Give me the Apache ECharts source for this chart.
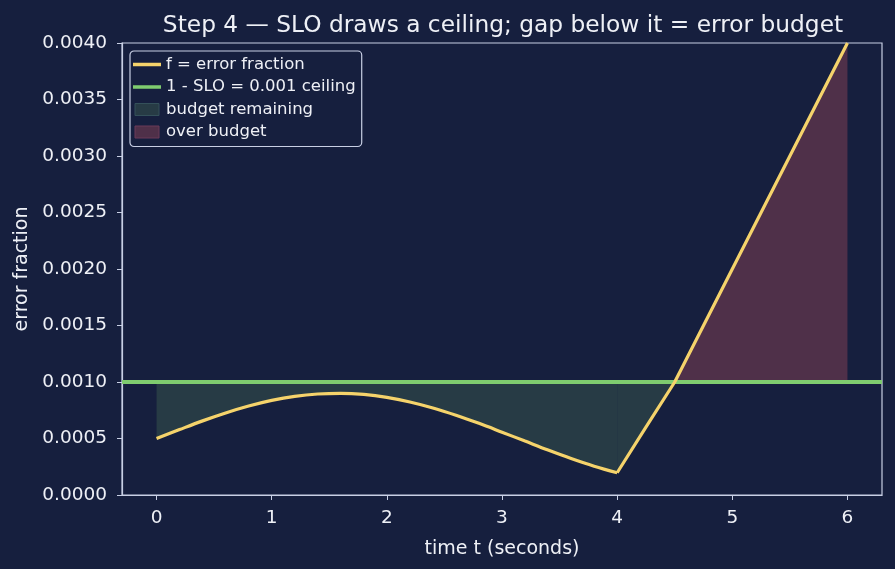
<!DOCTYPE html>
<html>
<head>
<meta charset="utf-8">
<script src="https://cdn.jsdelivr.net/npm/echarts@6/dist/echarts.min.js"></script>
<style>
  html, body { margin: 0; padding: 0; background: #161f3e; }
  #chart { width: 895px; height: 569px; }
</style>
</head>
<body>
<div id="chart"></div>
<script>
// time samples (seconds) and the error fraction
const tValues = [0, 0.2, 0.4, 0.6, 0.8, 1.0, 1.2, 1.4, 1.6, 1.8, 2.0, 2.2, 2.4, 2.6, 2.8, 3.0,
  3.2, 3.4, 3.6, 3.8, 4.0, 4.25, 4.5, 4.75, 5.0, 5.25, 5.5, 5.75, 6.0];
const fValues = [0.000500, 0.000579, 0.000656, 0.000726, 0.000787, 0.000837, 0.000873, 0.000894,
  0.000900, 0.000890, 0.000864, 0.000823, 0.000770, 0.000706, 0.000634, 0.000556, 0.000477,
  0.000398, 0.000323, 0.000255, 0.000197, 0.000600, 0.001000, 0.001500, 0.002000, 0.002500,
  0.003000, 0.003500, 0.004000];
const ceiling = 0.001;
const bendT = 4;     // where the slow wave turns into the steep climb
const crossT = 4.5;  // where f crosses the ceiling
const xTicks = [0, 1, 2, 3, 4, 5, 6];

const textColor = '#eef0f6';
const spineColor = '#c8cfe4';
const yellow = '#f5d36b';
const green = '#7fcc6f';
const budgetFill = '#273b45';
const overFill = '#4f3049';
const lineIcon = 'path://M0,0 L28,0 L28,3.5 L0,3.5 Z';
const boxIcon = 'path://M3,0 L25,0 L25,11 L3,11 Z';

const curve = tValues.map((t, i) => [t, fValues[i]]);
const wavePart = curve.filter(p => p[0] <= bendT);
const climbPart = curve.filter(p => p[0] >= bendT);
const underClimb = curve.filter(p => p[0] >= bendT && p[0] <= crossT);
const overPart = curve.filter(p => p[0] >= crossT);

const areaSeries = (name, data, color, smooth) => ({
  name, type: 'line', data, smooth, symbol: 'none',
  lineStyle: { width: 0, opacity: 0 },
  areaStyle: { color, opacity: 1, origin: ceiling },
  z: 1
});
const curveSeries = (data, smooth) => ({
  name: 'f = error fraction', type: 'line', data, smooth, symbol: 'none',
  lineStyle: { color: yellow, width: 3.2 },
  itemStyle: { color: yellow },
  z: 4
});

const chart = echarts.init(document.getElementById('chart'));
chart.setOption({
  backgroundColor: '#161f3e',
  textStyle: { fontFamily: 'DejaVu Sans' },
  title: {
    text: 'Step 4 — SLO draws a ceiling; gap below it = error budget',
    left: 498,
    top: 9,
    textAlign: 'center',
    textStyle: { color: textColor, fontSize: 23.3, fontWeight: 'normal', fontFamily: 'DejaVu Sans' }
  },
  grid: {
    left: 122, right: 13, top: 43, bottom: 74,
    show: true, borderColor: spineColor, borderWidth: 1.2, backgroundColor: 'transparent'
  },
  legend: {
    orient: 'vertical',
    left: 130, top: 51,
    padding: [5, 6, 6, 3],
    itemWidth: 28, itemHeight: 12, itemGap: 5.5,
    symbolKeepAspect: true,
    backgroundColor: '#161f3e',
    borderColor: spineColor, borderWidth: 1.2, borderRadius: 4,
    textStyle: { color: textColor, fontSize: 16.5, fontFamily: 'DejaVu Sans', lineHeight: 17 },
    data: [
      { name: 'f = error fraction', icon: lineIcon, itemStyle: { color: yellow } },
      { name: '1 - SLO = 0.001 ceiling', icon: lineIcon, itemStyle: { color: green } },
      { name: 'budget remaining', icon: boxIcon, itemStyle: { color: budgetFill, borderColor: '#34505a', borderWidth: 1 } },
      { name: 'over budget', icon: boxIcon, itemStyle: { color: overFill, borderColor: '#6a3a58', borderWidth: 1 } }
    ]
  },
  xAxis: {
    type: 'value',
    min: -0.3, max: 6.3,
    name: 'time t (seconds)',
    nameLocation: 'middle', nameGap: 45,
    nameTextStyle: { color: textColor, fontSize: 19 },
    axisLine: { show: true, onZero: false, lineStyle: { color: spineColor, width: 1.2 } },
    axisTick: { show: true, length: 5, customValues: xTicks, lineStyle: { color: spineColor } },
    axisLabel: { color: textColor, fontSize: 18.5, margin: 14, customValues: xTicks },
    splitLine: { show: false }
  },
  yAxis: {
    type: 'value',
    min: 0, max: 0.004, interval: 0.0005,
    name: 'error fraction',
    nameLocation: 'middle', nameGap: 89,
    nameTextStyle: { color: textColor, fontSize: 19 },
    axisLine: { show: true, onZero: false, lineStyle: { color: spineColor, width: 1.2 } },
    axisTick: { show: true, length: 5, lineStyle: { color: spineColor } },
    axisLabel: { color: textColor, fontSize: 18.5, margin: 15, formatter: v => v.toFixed(4) },
    splitLine: { show: false }
  },
  series: [
    areaSeries('budget remaining', wavePart, budgetFill, 0.35),
    areaSeries('budget remaining', underClimb, budgetFill, false),
    areaSeries('over budget', overPart, overFill, false),
    {
      name: '1 - SLO = 0.001 ceiling',
      type: 'line',
      data: [[-0.3, ceiling], [6.3, ceiling]],
      symbol: 'none',
      lineStyle: { color: green, width: 4 },
      itemStyle: { color: green },
      z: 3
    },
    curveSeries(wavePart, 0.35),
    curveSeries(climbPart, false)
  ]
});
</script>
</body>
</html>
